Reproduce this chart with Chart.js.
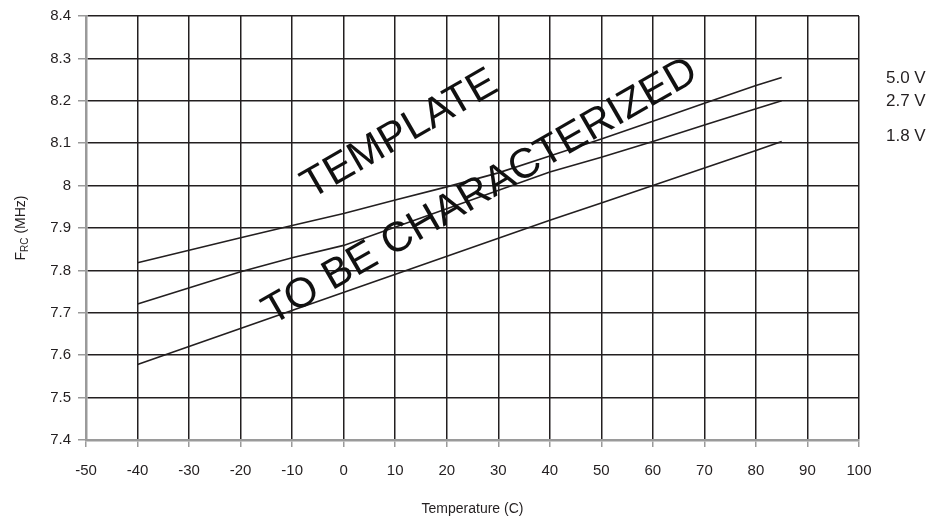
<!DOCTYPE html>
<html>
<head>
<meta charset="utf-8">
<script src="https://cdn.jsdelivr.net/npm/chart.js@4/dist/chart.umd.min.js"></script>
<style>
  html, body { margin: 0; padding: 0; background: #fff; }
  #wrap { width: 947px; height: 525px; }
</style>
</head>
<body>
<div id="wrap"><canvas id="myChart"></canvas></div>
<script>
// values
const temps50 = [-40, -20, -10, 0, 10, 20, 30, 40, 50, 60, 70, 80, 85];
const freq50 = [7.818, 7.877, 7.906, 7.934, 7.966, 7.997, 8.03, 8.07, 8.11, 8.152, 8.194, 8.236, 8.255];

const temps27 = [-40, -20, -10, 0, 40, 50, 60, 70, 80, 85];
const freq27 = [7.721, 7.797, 7.83, 7.859, 8.032, 8.067, 8.104, 8.143, 8.181, 8.2];

const temps18 = [-40, 40, 50, 60, 80, 85];
const freq18 = [7.578, 7.918, 7.959, 8.0, 8.083, 8.104];

const seriesNames = ['5.0 V', '2.7 V', '1.8 V'];
const xTicks = { min: -50, max: 100, step: 10 };
const yTicks = { min: 7.4, max: 8.4, step: 0.1 };

const ink = '#231f20';
const frame = '#9a9a9a';
const fontFam = '"Liberation Sans", Arial, sans-serif';

function pts(xs, ys) {
    return xs.map((x, i) => ({ x: x, y: ys[i] }));
}

const data = {
    datasets: [
        { label: seriesNames[0], data: pts(temps50, freq50) },
        { label: seriesNames[1], data: pts(temps27, freq27) },
        { label: seriesNames[2], data: pts(temps18, freq18) }
    ].map(d => Object.assign(d, {
        borderColor: ink,
        borderWidth: 1.6,
        pointRadius: 0,
        fill: false,
        tension: 0
    }))
};

// right side labels, watermark and y title with subscript
const extras = {
    id: 'extras',
    afterDatasetsDraw(chart) {
        const ctx = chart.ctx;
        const xs = chart.scales.x, ys = chart.scales.y;
        ctx.save();
        ctx.fillStyle = '#111';
        ctx.font = '42px ' + fontFam;
        ctx.textAlign = 'center';
        ctx.textBaseline = 'middle';
        const marks = [['TEMPLATE', 10.9, 8.12], ['TO BE CHARACTERIZED', 26.5, 7.985]];
        marks.forEach(m => {
            ctx.save();
            ctx.translate(xs.getPixelForValue(m[1]), ys.getPixelForValue(m[2]));
            ctx.rotate(-30 * Math.PI / 180);
            ctx.fillText(m[0], 0, 0);
            ctx.restore();
        });
        ctx.restore();
    },
    afterDraw(chart) {
        const ctx = chart.ctx;
        const area = chart.chartArea;
        const ys = chart.scales.y;
        ctx.save();
        ctx.fillStyle = ink;
        ctx.font = '17px ' + fontFam;
        ctx.textAlign = 'left';
        ctx.textBaseline = 'middle';
        const nudge = [1, 1, -5];
        chart.data.datasets.forEach((ds, i) => {
            const last = ds.data[ds.data.length - 1];
            ctx.fillText(ds.label, area.right + 27, ys.getPixelForValue(last.y) + nudge[i]);
        });

        // y title: F with RC subscript
        ctx.translate(20, (area.top + area.bottom) / 2);
        ctx.rotate(-Math.PI / 2);
        ctx.textBaseline = 'alphabetic';
        const big = '14px ' + fontFam, small = '10px ' + fontFam;
        ctx.font = big; const wF = ctx.measureText('F').width;
        const wM = ctx.measureText(' (MHz)').width;
        ctx.font = small; const wRC = ctx.measureText('RC').width;
        let x0 = -(wF + wRC + wM) / 2;
        ctx.font = big; ctx.fillText('F', x0, 5);
        ctx.font = small; ctx.fillText('RC', x0 + wF, 8);
        ctx.font = big; ctx.fillText(' (MHz)', x0 + wF + wRC, 5);
        ctx.restore();
    }
};

const chart = new Chart(document.getElementById('myChart'), {
    type: 'line',
    data: data,
    plugins: [extras],
    options: {
        responsive: true,
        maintainAspectRatio: false,
        animation: false,
        layout: { padding: { top: 14, right: 88, left: 0, bottom: 3 } },
        plugins: {
            legend: { display: false },
            tooltip: { enabled: false }
        },
        scales: {
            x: {
                type: 'linear',
                min: xTicks.min,
                max: xTicks.max,
                afterFit: s => { s.height = 82; },
                ticks: {
                    stepSize: xTicks.step,
                    color: ink,
                    font: { family: fontFam, size: 15 },
                    padding: 15,
                    maxRotation: 0
                },
                grid: { color: ink, lineWidth: 1.5, tickColor: frame, tickLength: 7 },
                border: { color: frame, width: 2.5 },
                title: {
                    display: true,
                    text: 'Temperature (C)',
                    color: ink,
                    font: { family: fontFam, size: 14 },
                    padding: { top: 9 }
                }
            },
            y: {
                type: 'linear',
                min: yTicks.min,
                max: yTicks.max,
                afterFit: s => { s.width = 86; },
                ticks: {
                    stepSize: yTicks.step,
                    color: ink,
                    font: { family: fontFam, size: 15 },
                    padding: 7,
                    callback: v => String(Number(v.toFixed(1)))
                },
                grid: { color: ink, lineWidth: 1.5, tickColor: frame, tickLength: 8 },
                border: { color: frame, width: 2.5 }
            }
        }
    }
});
</script>
</body>
</html>
